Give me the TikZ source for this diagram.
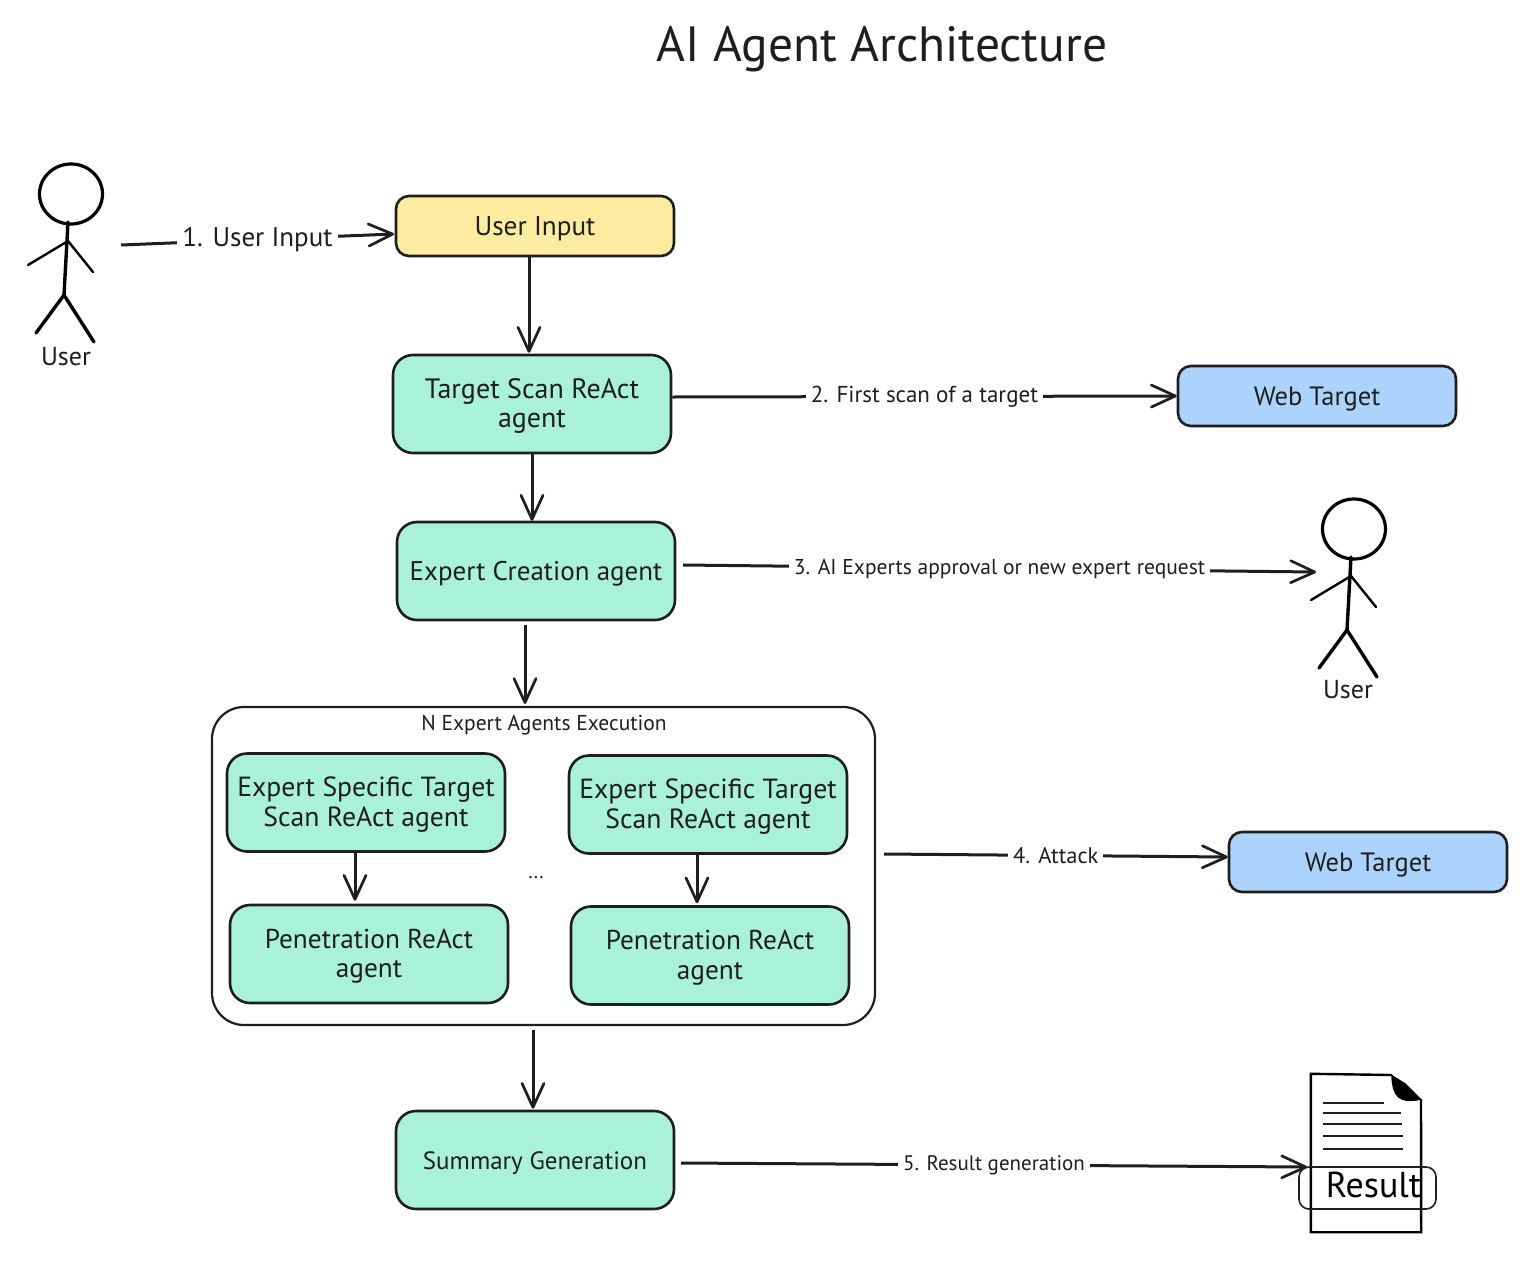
\documentclass[tikz,border=0pt]{standalone}
\usepackage{fontspec}
\setmainfont{PT Sans}
\usetikzlibrary{arrows.meta,shapes.geometric,calc}
\definecolor{ink}{HTML}{1E1E1E}
\definecolor{mint}{HTML}{A9F1DA}
\definecolor{sand}{HTML}{FDEBA0}
\definecolor{sky}{HTML}{ABD3FB}
\newcommand{\sz}[1]{\fontsize{#1}{29.5}\selectfont}
\newcommand{\dn}{\rule{0pt}{24pt}}
\tikzset{
  x=1pt,y=-1pt,
  every node/.style={text=ink},
  boxbase/.style={draw=ink,line width=2.6pt,rounded corners=20pt,align=center,minimum width=278pt,inner sep=0pt,font=\sz{26.5}},
  agent/.style={boxbase,fill=mint,minimum height=98pt},
  inputbox/.style={boxbase,fill=sand,minimum height=60pt,rounded corners=13pt},
  webbox/.style={boxbase,fill=sky,minimum height=60pt,rounded corners=13pt},
  group/.style={draw=ink,line width=2.2pt,rounded corners=32pt,fill=white,minimum width=663pt,minimum height=318pt,inner sep=0pt},
  link/.style={draw=ink,line width=3pt,-{Straight Barb[length=24pt,width=22pt,line width=2.7pt,round]}},
  lbl/.style={fill=white,inner sep=5pt,midway},
  stroke/.style={draw=black,line width=3.4pt,line cap=round},
  thin stroke/.style={draw=black,line width=2.4pt,line cap=round},
  stick/.pic={
    \node[ellipse,draw=black,line width=3.2pt,minimum width=63pt,minimum height=60pt,inner sep=0pt] (-head) at (3,-163) {};
    \coordinate (-neck) at (0,-135);
    \coordinate (-hip) at (-4,-62);
    \coordinate (-shoulder) at (0,-116);
    \coordinate (-handl) at (-40,-92);
    \coordinate (-handr) at (25,-85);
    \coordinate (-footl) at (-32,-24);
    \coordinate (-footr) at (26,-15);
    \draw[stroke] (-neck) -- (-hip);
    \draw[thin stroke] (-handl) -- (-shoulder) -- (-handr);
    \draw[stroke] (-footl) -- (-hip) -- (-footr);
  }
}
\begin{document}
\begin{tikzpicture}
\useasboundingbox (0,0) rectangle (1524,1264);

\node[font=\fontsize{49.5}{50}\selectfont] (title) at (882,49) {AI Agent Architecture};

% nodes
\node[inputbox,font=\sz{27.2}] (ui) at (535,226) {\dn User Input};
\node[agent,font=\sz{28}] (ts) at (532,404) {\dn Target Scan ReAct\\agent};
\node[webbox] (web1) at (1317,396) {\dn Web Target};
\node[agent,font=\sz{27}] (ec) at (536,571) {\dn Expert Creation agent};
\node[group] (grp) at (543.5,866) {};
\node[font=\fontsize{21.5}{22}\selectfont] (grplbl) at (544,725) {N Expert Agents Execution};
\node[agent,font=\sz{27.7}] (es1) at (366,802.5) {\dn Expert Specific Target\\Scan ReAct agent};
\node[agent,font=\sz{27.7}] (es2) at (708,804.5) {\dn Expert Specific Target\\Scan ReAct agent};
\node[agent,font=\sz{27.3}] (pe1) at (369,954) {\dn Penetration ReAct\\agent};
\node[agent,font=\sz{27.3}] (pe2) at (710,955.5) {\dn Penetration ReAct\\agent};
\node[font=\fontsize{20}{20}\selectfont] (dots) at (536,878) {...};
\node[webbox] (web2) at (1368,862) {\dn Web Target};
\node[agent,font=\sz{25}] (sg) at (535,1160) {\dn Summary Generation};

% stick figures
\pic (u1) at (68,357) {stick};
\node[font=\fontsize{26}{26}\selectfont] (u1lbl) at (66,357) {User};
\pic (u2) at (1351,692) {stick};
\node[font=\fontsize{26}{26}\selectfont] (u2lbl) at (1348,690) {User};

% document
\node[draw=none,minimum width=110pt,minimum height=158pt,inner sep=0pt] (doc) at (1366,1153) {};
\coordinate (fa) at (1392,1075);
\coordinate (fb) at (1421,1099);
\draw[line width=2.4pt,draw=black] (fa) -- (doc.north west) -- (doc.south west) -- (doc.south east) -- (fb);
\fill[black] (fa) -- (1405,1083) -- (fb) .. controls (1408,1103) and (1392,1103) .. (fa);
\draw[line width=1.6pt,black] (fa) .. controls (1393,1098) and (1400,1103) .. (fb);
\foreach \yy/\xe in {1103/1384,1113/1401,1124/1402,1136/1403,1149/1403}
  \draw[line width=2pt,ink] (1323,\yy) -- (\xe,\yy);
\node[draw=ink,line width=1.6pt,rounded corners=10pt,minimum width=137pt,minimum height=42pt,inner sep=0pt] (res) at (1367.5,1188) {};
\node[font=\fontsize{36}{36}\selectfont,text=black] (restxt) at (1373.5,1185) {Result};

% connector free ends
\coordinate (s1) at (121,245);
\coordinate (e1) at (394,234);
\coordinate (s3) at (683,565);
\coordinate (e3) at (1316,572);
\coordinate (s4) at (884,854);
\coordinate (s5) at (681,1163);
\coordinate (e5) at (1307,1167);

% connectors
\draw[link] (s1) -- node[lbl,font=\fontsize{27}{27}\selectfont] {1. User Input} (e1);
\draw[link] ([xshift=-6pt]ui.south) -- ([xshift=-3pt,yshift=1pt]ts.north);
\draw[link] (ts.east) ++(0,-7) -- node[lbl,font=\fontsize{23}{23}\selectfont] {2. First scan of a target} (web1.west);
\draw[link] ([xshift=-0pt]ts.south) -- ([xshift=-4pt]ec.north);
\draw[link] (s3) -- node[lbl,font=\fontsize{21.5}{22}\selectfont] {3. AI Experts approval or new expert request} (e3);
\draw[link] ([xshift=-11pt,yshift=-4pt]ec.south) -- ([xshift=-18.5pt,yshift=2pt]grp.north);
\draw[link] ([xshift=-11pt]es1.south) -- ([xshift=-14pt,yshift=3pt]pe1.north);
\draw[link] ([xshift=-11pt]es2.south) -- ([xshift=-13pt,yshift=2pt]pe2.north);
\draw[link] (s4) -- node[lbl,font=\fontsize{22.5}{23}\selectfont] {4. Attack} ([yshift=5pt]web2.west);
\draw[link] ([xshift=-10.5pt,yshift=-4pt]grp.south) -- ([xshift=-2pt,yshift=1pt]sg.north);
\draw[link] (s5) -- node[lbl,font=\fontsize{21}{21}\selectfont] {5. Result generation} (e5);
\end{tikzpicture}
\end{document}
